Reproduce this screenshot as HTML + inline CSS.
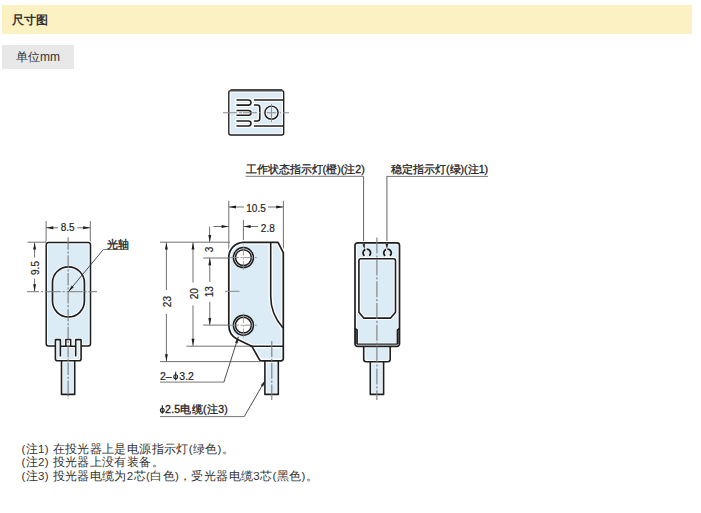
<!DOCTYPE html>
<html><head><meta charset="utf-8">
<style>
html,body{margin:0;padding:0;background:#fff;width:701px;height:513px;overflow:hidden}
body{font-family:"Liberation Sans",sans-serif;color:#333;position:relative}
.hdr{position:absolute;left:2px;top:5px;width:690px;height:29.4px;background:#fcf1c2}
.hdr span{position:absolute;left:10.3px;top:5.5px;font-size:12px;font-weight:bold;color:#333;line-height:18px}
.unit{position:absolute;left:2px;top:45px;width:72px;height:23.5px;background:#e8e8e8}
.unit span{position:absolute;left:14px;top:3px;font-size:12px;color:#333;line-height:18px}
.notes{position:absolute;left:21.5px;top:442.6px;font-size:11.5px;line-height:13.8px;letter-spacing:0.37px;color:#333}
svg{position:absolute;left:0;top:0}
svg text{font-family:"Liberation Sans",sans-serif}
</style></head><body>
<div class="hdr"><span>尺寸图</span></div>
<div class="unit"><span>单位mm</span></div>
<svg width="701" height="513" viewBox="0 0 701 513">
<path d="M230.8,90.6 H281.7 A2,2 0 0 1 283.7,92.6 V133 A2,2 0 0 1 281.7,135 H230.8 A2,2 0 0 1 228.8,133 V92.6 A2,2 0 0 1 230.8,90.6 Z" fill="#dcecf6"/>
<path d="M230.8,90.6 H281.7 A2,2 0 0 1 283.7,92.6 V133 A2,2 0 0 1 281.7,135 H230.8 A2,2 0 0 1 228.8,133 V92.6 A2,2 0 0 1 230.8,90.6 Z" fill="none" stroke="#fff" stroke-width="3.6" stroke-linejoin="round" stroke-linecap="round"/>
<path d="M236.4,99.9 H248.40 A2.60,2.60 0 0 1 248.40,105.1 H236.4 M236.4,110.4 H248.60 A2.40,2.40 0 0 1 248.60,115.2 H236.4 M236.4,120.9 H248.45 A2.55,2.55 0 0 1 248.45,126 H236.4 " fill="none" stroke="#fff" stroke-width="4.0" stroke-linejoin="round" stroke-linecap="round"/>
<path d="M283.7,99.9 H253.9 M253.9,126 H283.7 M253.9,104.9 H257.3 A2.5,2.5 0 0 1 259.8,107.4 V118.4 A2.5,2.5 0 0 1 257.3,120.9 H253.9" fill="none" stroke="#fff" stroke-width="4.0" stroke-linejoin="round" stroke-linecap="round"/>
<path d="M230.8,90.6 H281.7 A2,2 0 0 1 283.7,92.6 V133 A2,2 0 0 1 281.7,135 H230.8 A2,2 0 0 1 228.8,133 V92.6 A2,2 0 0 1 230.8,90.6 Z" fill="none" stroke="#1e1e1e" stroke-width="1.35" stroke-linejoin="round"/>
<path d="M236.4,99.9 H248.40 A2.60,2.60 0 0 1 248.40,105.1 H236.4 M236.4,110.4 H248.60 A2.40,2.40 0 0 1 248.60,115.2 H236.4 M236.4,120.9 H248.45 A2.55,2.55 0 0 1 248.45,126 H236.4 " fill="none" stroke="#1e1e1e" stroke-width="1.55" stroke-linejoin="round"/>
<path d="M283.7,99.9 H253.9 M253.9,126 H283.7 M253.9,104.9 H257.3 A2.5,2.5 0 0 1 259.8,107.4 V118.4 A2.5,2.5 0 0 1 257.3,120.9 H253.9" fill="none" stroke="#1e1e1e" stroke-width="1.55" stroke-linejoin="round"/>
<line x1="230.5" y1="90.1" x2="282.3" y2="90.1" stroke="#4a4a4a" stroke-width="2.4" />
<line x1="223" y1="112.7" x2="289" y2="112.7" stroke="#8a8a8a" stroke-width="1.1" stroke-dasharray="14,2,2,2" stroke-dashoffset="0"/>
<circle cx="271.5" cy="112.7" r="6.6" fill="none" stroke="#fff" stroke-width="3.4"/>
<circle cx="271.5" cy="112.7" r="6.6" fill="none" stroke="#1e1e1e" stroke-width="1.45"/>
<line x1="223" y1="112.7" x2="289" y2="112.7" stroke="#8a8a8a" stroke-width="1.1" stroke-dasharray="0,18,1,100" stroke-dashoffset="0"/>
<line x1="271.5" y1="104" x2="271.5" y2="122" stroke="#8a8a8a" stroke-width="0.9" />
<line x1="46.1" y1="221" x2="46.1" y2="243" stroke="#707070" stroke-width="1" />
<line x1="90.3" y1="221" x2="90.3" y2="243" stroke="#707070" stroke-width="1" />
<line x1="46" y1="227.8" x2="58" y2="227.8" stroke="#707070" stroke-width="1" />
<line x1="77.4" y1="227.8" x2="90.3" y2="227.8" stroke="#707070" stroke-width="1" />
<path d="M46.30,227.80 L53.30,226.35 L53.30,229.25Z" fill="#1e1e1e"/>
<path d="M90.10,227.80 L83.10,229.25 L83.10,226.35Z" fill="#1e1e1e"/>
<text x="67.6" y="231.3" font-size="10" text-anchor="middle" fill="#222"  stroke="#222" stroke-width="0.18">8.5</text>
<path d="M55.4,345.9 H48.4 A2.2,2.2 0 0 1 46.2,343.7 V244.7 A2.2,2.2 0 0 1 48.4,242.5 H88.3 A2.2,2.2 0 0 1 90.5,244.7 V343.7 A2.2,2.2 0 0 1 88.3,345.9 H81.1 Z" fill="#dcecf6"/>
<path d="M55.4,339.6 H81.1 V358.7 A2,2 0 0 1 79.1,360.7 H57.4 A2,2 0 0 1 55.4,358.7 Z" fill="#dcecf6"/>
<path d="M61.5,360.7 V394.4 H74.7 V360.7Z" fill="#dcecf6"/>
<path d="M61.5,360.7 V394.4 H74.7 V360.7" fill="none" stroke="#fff" stroke-width="3.2" stroke-linejoin="round" stroke-linecap="round"/>
<path d="M55.4,345.9 H48.4 A2.2,2.2 0 0 1 46.2,343.7 V244.7 A2.2,2.2 0 0 1 48.4,242.5 H88.3 A2.2,2.2 0 0 1 90.5,244.7 V343.7 A2.2,2.2 0 0 1 88.3,345.9 H81.1" fill="none" stroke="#fff" stroke-width="3.4" stroke-linejoin="round" stroke-linecap="round"/>
<path d="M60.4,356.4 V340.1 A0.5,0.5 0 0 0 59.9,339.6 H55.9 A0.5,0.5 0 0 0 55.4,340.1 V358.7 A2,2 0 0 0 57.4,360.7 H79.1 A2,2 0 0 0 81.1,358.7 V340.1 A0.5,0.5 0 0 0 80.6,339.6 H76.2 A0.5,0.5 0 0 0 75.7,340.1 V356.4" fill="none" stroke="#fff" stroke-width="3.4" stroke-linejoin="round" stroke-linecap="round"/>
<path d="M60.4,346.3 H75.7 M65.8,346.3 V339.6 H70.7 V346.3" fill="none" stroke="#fff" stroke-width="3.4" stroke-linejoin="round" stroke-linecap="round"/>
<path d="M52.5,282.8 A15.95,15.95 0 0 1 84.4,282.8 V301 A15.95,15.95 0 0 1 52.5,301 Z" fill="none" stroke="#fff" stroke-width="3.4" stroke-linejoin="round" stroke-linecap="round"/>
<path d="M61.5,360.7 V394.4 H74.7 V360.7" fill="none" stroke="#1e1e1e" stroke-width="1.6" stroke-linejoin="round"/>
<path d="M55.4,345.9 H48.4 A2.2,2.2 0 0 1 46.2,343.7 V244.7 A2.2,2.2 0 0 1 48.4,242.5 H88.3 A2.2,2.2 0 0 1 90.5,244.7 V343.7 A2.2,2.2 0 0 1 88.3,345.9 H81.1" fill="none" stroke="#1e1e1e" stroke-width="1.5" stroke-linejoin="round"/>
<path d="M60.4,356.4 V340.1 A0.5,0.5 0 0 0 59.9,339.6 H55.9 A0.5,0.5 0 0 0 55.4,340.1 V358.7 A2,2 0 0 0 57.4,360.7 H79.1 A2,2 0 0 0 81.1,358.7 V340.1 A0.5,0.5 0 0 0 80.6,339.6 H76.2 A0.5,0.5 0 0 0 75.7,340.1 V356.4" fill="none" stroke="#1e1e1e" stroke-width="1.6" stroke-linejoin="round"/>
<path d="M60.4,346.3 H75.7 M65.8,346.3 V339.6 H70.7 V346.3" fill="none" stroke="#1e1e1e" stroke-width="1.5" stroke-linejoin="round"/>
<path d="M52.5,282.8 A15.95,15.95 0 0 1 84.4,282.8 V301 A15.95,15.95 0 0 1 52.5,301 Z" fill="none" stroke="#1e1e1e" stroke-width="1.7" stroke-linejoin="round"/>
<line x1="27.5" y1="242.2" x2="46" y2="242.2" stroke="#707070" stroke-width="1" />
<line x1="34.6" y1="242.5" x2="34.6" y2="257.5" stroke="#707070" stroke-width="1" />
<line x1="34.6" y1="278.5" x2="34.6" y2="291.6" stroke="#707070" stroke-width="1" />
<path d="M34.60,242.60 L36.05,249.60 L33.15,249.60Z" fill="#1e1e1e"/>
<path d="M34.60,291.30 L33.15,284.30 L36.05,284.30Z" fill="#1e1e1e"/>
<text x="0" y="0" font-size="10" text-anchor="middle" fill="#222" transform="translate(38.9,268) rotate(-90)" stroke="#222" stroke-width="0.18">9.5</text>
<line x1="68.1" y1="237.3" x2="68.1" y2="399" stroke="#7c7c7c" stroke-width="1.1" stroke-dasharray="12.5,1.6,2.2,1.6" stroke-dashoffset="0"/>
<line x1="27" y1="291.7" x2="97" y2="291.7" stroke="#7c7c7c" stroke-width="1" stroke-dasharray="16,1.8,2.2,1.8" stroke-dashoffset="4"/>
<line x1="68.6" y1="291.4" x2="103.3" y2="249.5" stroke="#3a3a3a" stroke-width="0.9" />
<line x1="103.3" y1="249.5" x2="128.5" y2="249.5" stroke="#777" stroke-width="1" />
<path d="M68.60,291.40 L71.74,285.56 L73.75,287.22Z" fill="#1e1e1e"/>
<text x="107" y="247.8" font-size="10.5" text-anchor="start" fill="#222" stroke="#222" stroke-width="0.3">光轴</text>
<line x1="228.8" y1="200.8" x2="228.8" y2="252" stroke="#707070" stroke-width="1" />
<line x1="283.4" y1="200.8" x2="283.4" y2="252" stroke="#707070" stroke-width="1" />
<line x1="228.8" y1="207" x2="244" y2="207" stroke="#707070" stroke-width="1" />
<line x1="268" y1="207" x2="283.4" y2="207" stroke="#707070" stroke-width="1" />
<path d="M229.00,207.00 L236.00,205.55 L236.00,208.45Z" fill="#1e1e1e"/>
<path d="M283.20,207.00 L276.20,208.45 L276.20,205.55Z" fill="#1e1e1e"/>
<text x="256" y="211.8" font-size="10" text-anchor="middle" fill="#222"  stroke="#222" stroke-width="0.18">10.5</text>
<line x1="213.3" y1="226.5" x2="228.8" y2="226.5" stroke="#707070" stroke-width="1" />
<line x1="243.4" y1="226.5" x2="258" y2="226.5" stroke="#707070" stroke-width="1" />
<path d="M228.60,226.50 L221.60,227.95 L221.60,225.05Z" fill="#1e1e1e"/>
<path d="M243.60,226.50 L250.60,225.05 L250.60,227.95Z" fill="#1e1e1e"/>
<text x="267.8" y="231.6" font-size="10" text-anchor="middle" fill="#222"  stroke="#222" stroke-width="0.18">2.8</text>
<line x1="243.4" y1="220" x2="243.4" y2="244" stroke="#707070" stroke-width="1" />
<path d="M243.3,242.3 H278 L283.3,252.7 V358.6 A2.2,2.2 0 0 1 281.1,360.8 H261.5 Q260,360.8 259.4,359.6 L251.8,346.2 L237.2,339.2 C232,336.5 228.8,331.5 228.8,325.2 V257.3 A15,15 0 0 1 243.3,242.3 Z" fill="#dcecf6"/>
<path d="M264.9,361 V394.4 H278.3 V361Z" fill="#dcecf6"/>
<path d="M264.9,361 V394.4 H278.3 V361" fill="none" stroke="#fff" stroke-width="3.2" stroke-linejoin="round" stroke-linecap="round"/>
<path d="M243.3,242.3 H278 L283.3,252.7 V358.6 A2.2,2.2 0 0 1 281.1,360.8 H261.5 Q260,360.8 259.4,359.6 L251.8,346.2 L237.2,339.2 C232,336.5 228.8,331.5 228.8,325.2 V257.3 A15,15 0 0 1 243.3,242.3 Z" fill="none" stroke="#fff" stroke-width="4.4" stroke-linejoin="round" stroke-linecap="round"/>
<path d="M270.7,242.6 V296.5 C270.7,310 276,320 283,328" fill="none" stroke="#fff" stroke-width="4.4" stroke-linejoin="round" stroke-linecap="round"/>
<path d="M250,346.2 H283" fill="none" stroke="#fff" stroke-width="4.0" stroke-linejoin="round" stroke-linecap="round"/>
<path d="M264.9,361 V394.4 H278.3 V361" fill="none" stroke="#1e1e1e" stroke-width="1.6" stroke-linejoin="round"/>
<path d="M243.3,242.3 H278 L283.3,252.7 V358.6 A2.2,2.2 0 0 1 281.1,360.8 H261.5 Q260,360.8 259.4,359.6 L251.8,346.2 L237.2,339.2 C232,336.5 228.8,331.5 228.8,325.2 V257.3 A15,15 0 0 1 243.3,242.3 Z" fill="none" stroke="#1e1e1e" stroke-width="1.7" stroke-linejoin="round"/>
<path d="M270.7,242.6 V296.5 C270.7,310 276,320 283,328" fill="none" stroke="#1e1e1e" stroke-width="1.6" stroke-linejoin="round"/>
<path d="M250,346.2 H283" fill="none" stroke="#1e1e1e" stroke-width="1.6" stroke-linejoin="round"/>
<circle cx="243.4" cy="257.6" r="10" fill="#fff" stroke="#1e1e1e" stroke-width="1.5"/>
<circle cx="243.4" cy="257.6" r="7.9" fill="#fff" stroke="#1e1e1e" stroke-width="1.5"/>
<line x1="228.5" y1="257.6" x2="257" y2="257.6" stroke="#8a8a8a" stroke-width="0.9" stroke-dasharray="9,1.6,2,1.6" stroke-dashoffset="-1.5"/>
<line x1="243.4" y1="244.60000000000002" x2="243.4" y2="270.6" stroke="#8a8a8a" stroke-width="0.8" stroke-dasharray="9,1.6,2,1.6" stroke-dashoffset="-2"/>
<circle cx="243.4" cy="325.2" r="10" fill="#fff" stroke="#1e1e1e" stroke-width="1.5"/>
<circle cx="243.4" cy="325.2" r="7.9" fill="#fff" stroke="#1e1e1e" stroke-width="1.5"/>
<line x1="228.5" y1="325.2" x2="257" y2="325.2" stroke="#8a8a8a" stroke-width="0.9" stroke-dasharray="9,1.6,2,1.6" stroke-dashoffset="-1.5"/>
<line x1="243.4" y1="312.2" x2="243.4" y2="338.2" stroke="#8a8a8a" stroke-width="0.8" stroke-dasharray="9,1.6,2,1.6" stroke-dashoffset="-2"/>
<line x1="225" y1="291.3" x2="239.5" y2="291.3" stroke="#888" stroke-width="1" />
<line x1="160" y1="242.2" x2="230" y2="242.2" stroke="#707070" stroke-width="1" />
<line x1="186.4" y1="346.2" x2="250" y2="346.2" stroke="#707070" stroke-width="1" />
<line x1="160" y1="361.6" x2="262" y2="361.6" stroke="#707070" stroke-width="1" />
<line x1="203.2" y1="258" x2="229" y2="258" stroke="#707070" stroke-width="1" />
<line x1="203.2" y1="325.1" x2="229" y2="325.1" stroke="#707070" stroke-width="1" />
<line x1="166.4" y1="242.5" x2="166.4" y2="290" stroke="#707070" stroke-width="1" />
<line x1="166.4" y1="314" x2="166.4" y2="361.4" stroke="#707070" stroke-width="1" />
<path d="M166.40,242.60 L167.85,249.60 L164.95,249.60Z" fill="#1e1e1e"/>
<path d="M166.40,361.30 L164.95,354.30 L167.85,354.30Z" fill="#1e1e1e"/>
<text x="0" y="0" font-size="10" text-anchor="middle" fill="#222" transform="translate(170.8,301.6) rotate(-90)" stroke="#222" stroke-width="0.18">23</text>
<line x1="193" y1="242.5" x2="193" y2="282.5" stroke="#707070" stroke-width="1" />
<line x1="193" y1="305.4" x2="193" y2="346" stroke="#707070" stroke-width="1" />
<path d="M193.00,242.60 L194.45,249.60 L191.55,249.60Z" fill="#1e1e1e"/>
<path d="M193.00,345.80 L191.55,338.80 L194.45,338.80Z" fill="#1e1e1e"/>
<text x="0" y="0" font-size="10" text-anchor="middle" fill="#222" transform="translate(197.5,293.8) rotate(-90)" stroke="#222" stroke-width="0.18">20</text>
<line x1="209.6" y1="226.7" x2="209.6" y2="242.2" stroke="#707070" stroke-width="1" />
<path d="M209.80,242.00 L208.35,235.00 L211.25,235.00Z" fill="#1e1e1e"/>
<text x="0" y="0" font-size="10" text-anchor="middle" fill="#222" transform="translate(213.4,249.5) rotate(-90)" stroke="#222" stroke-width="0.18">3</text>
<line x1="209.8" y1="258" x2="209.8" y2="281.8" stroke="#707070" stroke-width="1" />
<line x1="209.8" y1="301.7" x2="209.8" y2="325" stroke="#707070" stroke-width="1" />
<path d="M209.80,258.20 L211.25,265.20 L208.35,265.20Z" fill="#1e1e1e"/>
<path d="M209.80,324.90 L208.35,317.90 L211.25,317.90Z" fill="#1e1e1e"/>
<text x="0" y="0" font-size="10" text-anchor="middle" fill="#222" transform="translate(213.4,291.7) rotate(-90)" stroke="#222" stroke-width="0.18">13</text>
<line x1="271.8" y1="341" x2="271.8" y2="400" stroke="#7c7c7c" stroke-width="1.1" stroke-dasharray="16,1.8,2.2,1.8" stroke-dashoffset="0"/>
<line x1="160" y1="382.1" x2="223.9" y2="382.1" stroke="#777" stroke-width="1" />
<line x1="223.9" y1="382.1" x2="238.3" y2="336.8" stroke="#3a3a3a" stroke-width="0.9" />
<path d="M238.30,336.80 L237.57,343.39 L235.09,342.60Z" fill="#1e1e1e"/>
<text x="160" y="379.6" font-size="10.5" text-anchor="start" fill="#222"  stroke="#222" stroke-width="0.18">2–</text>
<ellipse cx="175.70" cy="376.80" rx="1.9" ry="2.0" fill="none" stroke="#222" stroke-width="1.1"/>
<line x1="175.70" y1="371.80" x2="175.70" y2="380.30" stroke="#222" stroke-width="1.1"/>
<text x="179.3" y="379.6" font-size="10.5" text-anchor="start" fill="#222"  stroke="#222" stroke-width="0.18">3.2</text>
<line x1="160" y1="416.6" x2="244.2" y2="416.6" stroke="#777" stroke-width="1" />
<line x1="244.2" y1="416.6" x2="265.2" y2="380.4" stroke="#3a3a3a" stroke-width="0.9" />
<path d="M265.20,380.40 L263.06,386.67 L260.81,385.37Z" fill="#1e1e1e"/>
<ellipse cx="162.30" cy="410.30" rx="1.9" ry="2.0" fill="none" stroke="#222" stroke-width="1.1"/>
<line x1="162.30" y1="405.30" x2="162.30" y2="413.80" stroke="#222" stroke-width="1.1"/>
<text x="165" y="413" font-size="10.5" text-anchor="start" fill="#222" stroke="#222" stroke-width="0.3" letter-spacing="0.3">2.5电缆(注3)</text>
<line x1="245.6" y1="176.3" x2="363.2" y2="176.3" stroke="#777" stroke-width="1" />
<line x1="363.6" y1="176.3" x2="363.6" y2="245" stroke="#555" stroke-width="0.9" />
<line x1="386.8" y1="176.4" x2="487.9" y2="176.4" stroke="#777" stroke-width="1" />
<line x1="386.9" y1="176.4" x2="386.9" y2="245" stroke="#555" stroke-width="0.9" />
<text x="245.6" y="173.4" font-size="10.65" text-anchor="start" fill="#222" stroke="#222" stroke-width="0.3">工作状态指示灯(橙)(注2)</text>
<text x="391" y="173.2" font-size="10.65" text-anchor="start" fill="#222" stroke="#222" stroke-width="0.3">稳定指示灯(绿)(注1)</text>
<path d="M357.6,242.8 H396.9 A2.6,2.6 0 0 1 399.5,245.4 V343.7 A2.6,2.6 0 0 1 396.9,346.3 H357.6 A2.6,2.6 0 0 1 355,343.7 V245.4 A2.6,2.6 0 0 1 357.6,242.8 Z" fill="#dcecf6"/>
<path d="M363.7,346.3 V359.3 A2.5,2.5 0 0 0 366.2,361.8 H387.7 A2.5,2.5 0 0 0 390.2,359.3 V346.3Z" fill="#dcecf6"/>
<path d="M370.3,361.8 V394.4 H383.6 V361.8Z" fill="#dcecf6"/>
<path d="M370.3,361.8 V394.4 H383.6 V361.8" fill="none" stroke="#fff" stroke-width="3.2" stroke-linejoin="round" stroke-linecap="round"/>
<path d="M357.6,242.8 H396.9 A2.6,2.6 0 0 1 399.5,245.4 V343.7 A2.6,2.6 0 0 1 396.9,346.3 H357.6 A2.6,2.6 0 0 1 355,343.7 V245.4 A2.6,2.6 0 0 1 357.6,242.8 Z" fill="none" stroke="#fff" stroke-width="3.6" stroke-linejoin="round" stroke-linecap="round"/>
<path d="M358.9,312.2 V260.7 A2,2 0 0 1 360.9,258.7 H393.5 A2,2 0 0 1 395.5,260.7 V312.2 L390.6,318.1 H363.7 Z" fill="none" stroke="#fff" stroke-width="3.6" stroke-linejoin="round" stroke-linecap="round"/>
<path d="M355,328.4 L357.2,329.8 V344.1 H397.3 V329.8 L399.5,328.4" fill="none" stroke="#fff" stroke-width="2.6" stroke-linejoin="round" stroke-linecap="round"/>
<path d="M363.7,346.3 V359.3 A2.5,2.5 0 0 0 366.2,361.8 H387.7 A2.5,2.5 0 0 0 390.2,359.3 V346.3" fill="none" stroke="#fff" stroke-width="3.4" stroke-linejoin="round" stroke-linecap="round"/>
<path d="M365.40,249.42 A3.75,3.75 0 0 0 364.54,255.89 M366.67,249.15 A3.75,3.75 0 0 1 369.21,255.77 M386.10,249.42 A3.75,3.75 0 0 0 385.24,255.89 M387.37,249.15 A3.75,3.75 0 0 1 389.91,255.77 " fill="none" stroke="#fff" stroke-width="2.6" stroke-linejoin="round" stroke-linecap="round"/>
<path d="M355,328.4 L357.2,329.8 V344.1 H355 Z" fill="#6a6a6a"/>
<path d="M399.5,328.4 L397.3,329.8 V344.1 H399.5 Z" fill="#6a6a6a"/>
<path d="M370.3,361.8 V394.4 H383.6 V361.8" fill="none" stroke="#1e1e1e" stroke-width="1.6" stroke-linejoin="round"/>
<path d="M357.6,242.8 H396.9 A2.6,2.6 0 0 1 399.5,245.4 V343.7 A2.6,2.6 0 0 1 396.9,346.3 H357.6 A2.6,2.6 0 0 1 355,343.7 V245.4 A2.6,2.6 0 0 1 357.6,242.8 Z" fill="none" stroke="#1e1e1e" stroke-width="1.7" stroke-linejoin="round"/>
<path d="M358.9,312.2 V260.7 A2,2 0 0 1 360.9,258.7 H393.5 A2,2 0 0 1 395.5,260.7 V312.2 L390.6,318.1 H363.7 Z" fill="none" stroke="#1e1e1e" stroke-width="1.6" stroke-linejoin="round"/>
<path d="M355,328.4 L357.2,329.8 V344.1 H397.3 V329.8 L399.5,328.4" fill="none" stroke="#1e1e1e" stroke-width="1.4" stroke-linejoin="round"/>
<path d="M363.7,346.3 V359.3 A2.5,2.5 0 0 0 366.2,361.8 H387.7 A2.5,2.5 0 0 0 390.2,359.3 V346.3" fill="none" stroke="#1e1e1e" stroke-width="1.6" stroke-linejoin="round"/>
<path d="M365.40,249.42 A3.75,3.75 0 0 0 364.54,255.89 M366.67,249.15 A3.75,3.75 0 0 1 369.21,255.77 M386.10,249.42 A3.75,3.75 0 0 0 385.24,255.89 M387.37,249.15 A3.75,3.75 0 0 1 389.91,255.77 " fill="none" stroke="#1e1e1e" stroke-width="1.8" stroke-linejoin="round"/>
<path d="M364.50,249.30 L362.49,244.34 L364.96,243.97Z" fill="#1e1e1e"/>
<path d="M386.90,249.30 L385.65,244.10 L388.15,244.10Z" fill="#1e1e1e"/>
<line x1="376.9" y1="237.6" x2="376.9" y2="400" stroke="#7c7c7c" stroke-width="1.1" stroke-dasharray="16,1.8,2.2,1.8" stroke-dashoffset="0"/>
</svg>
<div class="notes">(注1) 在投光器上是电源指示灯(绿色)。<br>(注2) 投光器上没有装备。<br>(注3) 投光器电缆为2芯(白色)，受光器电缆3芯(黑色)。</div>
</body></html>
